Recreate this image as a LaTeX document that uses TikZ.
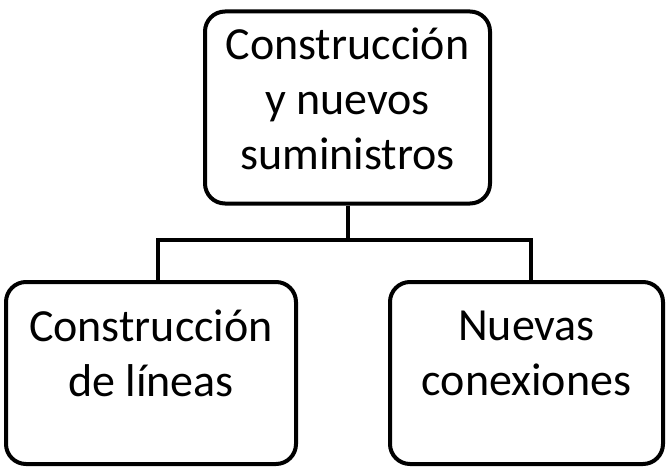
\documentclass[tikz,border=0pt]{standalone}
\usepackage{fontspec}
\setmainfont{Carlito}
\begin{document}
\begin{tikzpicture}[x=1pt,y=-1pt,
  box/.style={draw=black, line width=4pt, rounded corners=20pt, inner sep=0pt},
  txt/.style={align=center, font=\fontsize{46}{55}\selectfont, inner sep=0pt},
  conn/.style={draw=black, line width=4pt}]
\useasboundingbox (0,0) rectangle (669,468);
\node[box, minimum width=285pt, minimum height=192pt] (top) at (347.5,107.5) {};
\node[txt] (toptext) at ([yshift=9pt]top.center) {Construcción\\y nuevos\\suministros};
\node[box, minimum width=290pt, minimum height=182pt] (left) at (151,373) {};
\node[txt] (lefttext) at ([yshift=20pt]left.center) {Construcción\\de líneas};
\node[box, minimum width=273pt, minimum height=182pt] (right) at (526.5,373) {};
\node[txt] (righttext) at ([yshift=20pt]right.center) {Nuevas\\conexiones};
\coordinate (mid) at (347.5,240);
\draw[conn] (top.south) -- (mid);
\draw[conn] (mid) -| ([xshift=7pt]left.north);
\draw[conn] (mid) -| ([xshift=4pt]right.north);
\end{tikzpicture}
\end{document}
